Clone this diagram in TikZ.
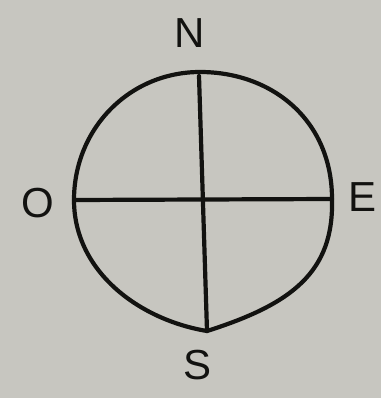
\documentclass[tikz,border=0pt]{standalone}
\usepackage{fontspec}
\setmainfont{Liberation Sans}
\usepackage{xcolor}
\definecolor{paper}{RGB}{199,198,192}
\definecolor{ink}{RGB}{18,18,16}

\begin{document}
\begin{tikzpicture}[x=1pt, y=-1pt,
    trait/.style={line width=4.2pt, ink, line cap=round, line join=round},
    lettre/.style={text=ink, font=\fontsize{42}{42}\selectfont, inner sep=0pt}]
    % fond (papier)
    \fill[paper] (0,0) rectangle (381,398);
    \useasboundingbox (0,0) rectangle (381,398);

    % points cardinaux sur le cercle
    \coordinate (haut) at (199,76);
    \coordinate (bas) at (207,331);
    \coordinate (gauche) at (74,200);
    \coordinate (droite) at (332,199);

    % cercle (trace a main levee)
    \draw[trait] (gauche) .. controls (74,128) and (130,72) .. (200,72)
        .. controls (272,72) and (332,120) .. (droite)
        .. controls (334,272) and (292,304) .. (bas)
        .. controls (140,320) and (74,272) .. cycle;

    % axes
    \draw[trait] (gauche) -- (droite);
    \draw[trait] (haut) -- (bas);

    % lettres
    \node[lettre] (N) at (190,33) {N};
    \node[lettre] (S) at (198,365) {S};
    \node[lettre] (O) at (38,203) {O};
    \node[lettre] (E) at (362,197) {E};
\end{tikzpicture}
\end{document}
